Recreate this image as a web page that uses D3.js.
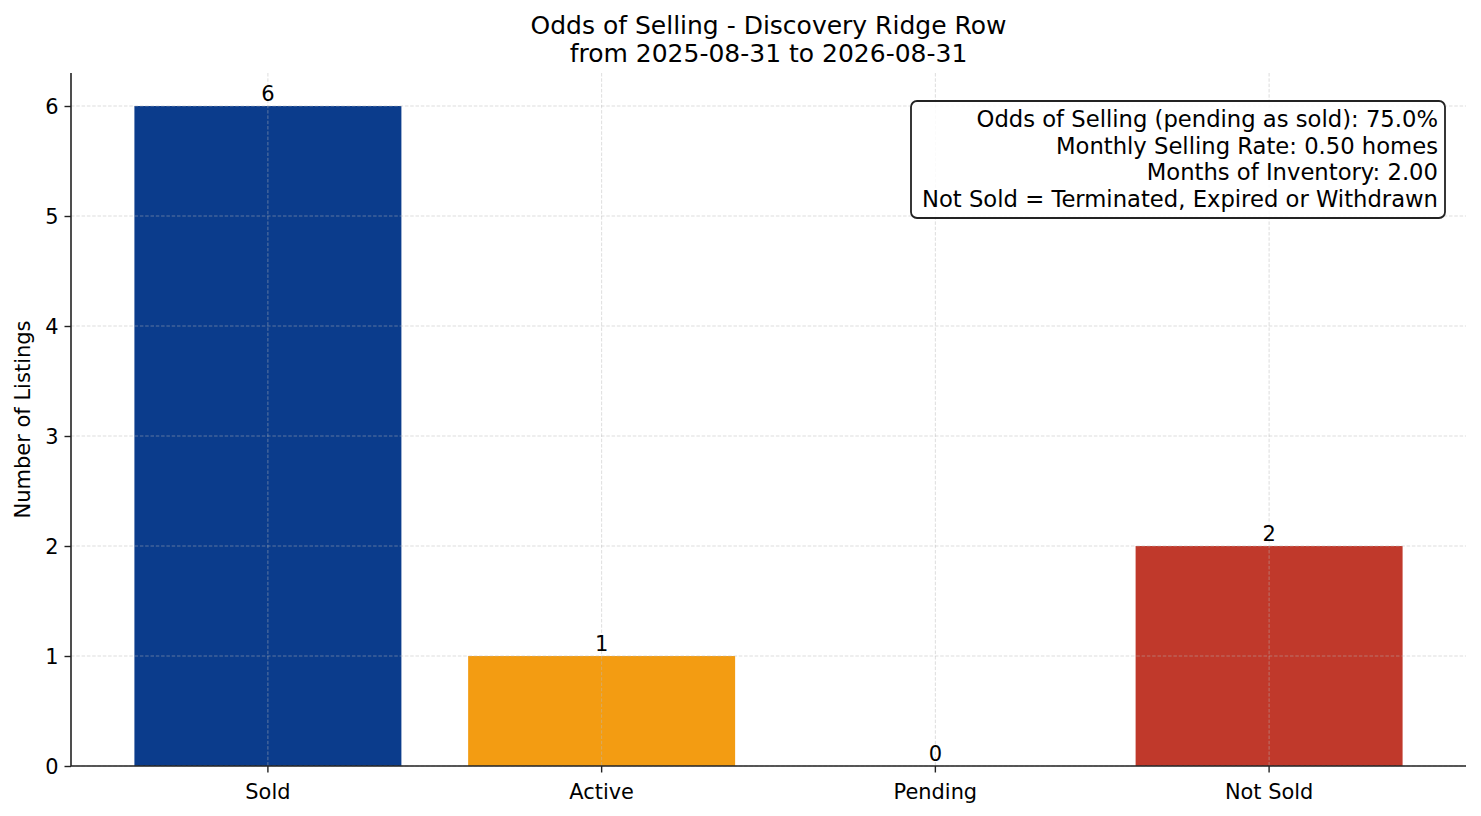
<!DOCTYPE html>
<html>
<head>
<meta charset="utf-8">
<script src="https://cdn.jsdelivr.net/npm/d3@7"></script>
<style>
    body { margin: 0; background: #fff; }
    svg text { font-family: "DejaVu Sans", sans-serif; fill: #000; }
</style>
</head>
<body>
<div id="chart"></div>
<script>
const categories = ['Sold', 'Active', 'Pending', 'Not Sold'];
const counts = [6, 1, 0, 2];
const barColors = ['#0b3c8c', '#f39c12', '#27ae60', '#c0392b'];
const yTicks = [0, 1, 2, 3, 4, 5, 6];
const titleLines = ['Odds of Selling - Discovery Ridge Row', 'from 2025-08-31 to 2026-08-31'];
const statsLines = [
    'Odds of Selling (pending as sold): 75.0%',
    'Monthly Selling Rate: 0.50 homes',
    'Months of Inventory: 2.00',
    'Not Sold = Terminated, Expired or Withdrawn'
];

const W = 1481, H = 816;
const margin = {top: 73, right: 15, bottom: 50, left: 71};
const plotW = W - margin.left - margin.right;
const plotH = H - margin.top - margin.bottom;

const svg = d3.select('#chart')
    .append('svg')
    .attr('width', W)
    .attr('height', H);

const g = svg.append('g')
    .attr('transform', `translate(${margin.left},${margin.top})`);

const x = d3.scaleBand()
    .domain(categories)
    .range([0, plotW])
    .paddingInner(0.2)
    .paddingOuter(0.19);

const y = d3.scaleLinear()
    .domain([0, 6.3])
    .range([plotH, 0]);

// bars
g.selectAll('.bar')
    .data(categories)
    .enter()
    .append('rect')
    .attr('class', 'bar')
    .attr('x', d => x(d))
    .attr('y', (d, i) => y(counts[i]))
    .attr('width', x.bandwidth())
    .attr('height', (d, i) => plotH - y(counts[i]))
    .attr('fill', (d, i) => barColors[i]);

// grid (drawn over bars, like the original)
const grid = g.append('g').attr('class', 'grid');
grid.selectAll('.hgrid')
    .data(yTicks)
    .enter()
    .append('line')
    .attr('x1', 0).attr('x2', plotW)
    .attr('y1', d => y(d)).attr('y2', d => y(d))
    .style('stroke', '#b8b8b8')
    .style('stroke-opacity', 0.6)
    .style('stroke-width', 0.8)
    .style('stroke-dasharray', '3.5,1.8');
grid.selectAll('.vgrid')
    .data(categories)
    .enter()
    .append('line')
    .attr('x1', d => x(d) + x.bandwidth() / 2).attr('x2', d => x(d) + x.bandwidth() / 2)
    .attr('y1', 0).attr('y2', plotH)
    .style('stroke', '#b8b8b8')
    .style('stroke-opacity', 0.6)
    .style('stroke-width', 0.8)
    .style('stroke-dasharray', '3.5,1.8');

// value labels
g.selectAll('.val')
    .data(categories)
    .enter()
    .append('text')
    .attr('x', d => x(d) + x.bandwidth() / 2)
    .attr('y', (d, i) => y(counts[i]) - 5)
    .attr('text-anchor', 'middle')
    .style('font-size', '21px')
    .text((d, i) => counts[i]);

// axes
const yAxis = d3.axisLeft(y).tickValues(yTicks).tickSize(6.5).tickPadding(6).tickFormat(d3.format('d'));
const xAxis = d3.axisBottom(x).tickSize(6.5).tickPadding(11.5);

const gy = g.append('g').call(yAxis);
const gx = g.append('g').attr('transform', `translate(0,${plotH})`).call(xAxis);

[gx, gy].forEach(ax => {
    ax.select('.domain').attr('stroke', '#222').attr('stroke-width', 1.6);
    ax.selectAll('.tick line').attr('stroke', '#222').attr('stroke-width', 1.4);
    ax.selectAll('.tick text')
        .style('font-family', '"DejaVu Sans", sans-serif')
        .style('font-size', '20.9px')
        .attr('fill', '#000');
});
gy.select('.domain').attr('d', `M0,${plotH}V0`);
gx.select('.domain').attr('d', `M0,0H${plotW}`);
gy.selectAll('.tick text').attr('dy', '0.36em');
gx.selectAll('.tick text').attr('dy', '0.71em');

// y label
svg.append('text')
    .attr('transform', `translate(30,${margin.top + plotH / 2}) rotate(-90)`)
    .attr('text-anchor', 'middle')
    .style('font-size', '21px')
    .text('Number of Listings');

// title
svg.selectAll('.title')
    .data(titleLines)
    .enter()
    .append('text')
    .attr('class', 'title')
    .attr('x', margin.left + plotW / 2)
    .attr('y', (d, i) => 33.5 + i * 28)
    .attr('text-anchor', 'middle')
    .style('font-size', '25px')
    .text(d => d);

// stats box
const box = svg.append('g');
box.append('rect')
    .attr('x', 911)
    .attr('y', 101)
    .attr('width', 534)
    .attr('height', 117)
    .attr('rx', 6)
    .style('fill', '#fff')
    .style('fill-opacity', 0.85)
    .style('stroke', '#222')
    .style('stroke-width', 1.8);
box.selectAll('text')
    .data(statsLines)
    .enter()
    .append('text')
    .attr('x', 1438)
    .attr('y', (d, i) => 127 + i * 26.5)
    .attr('text-anchor', 'end')
    .style('font-size', '22.7px')
    .text(d => d);
</script>
</body>
</html>
